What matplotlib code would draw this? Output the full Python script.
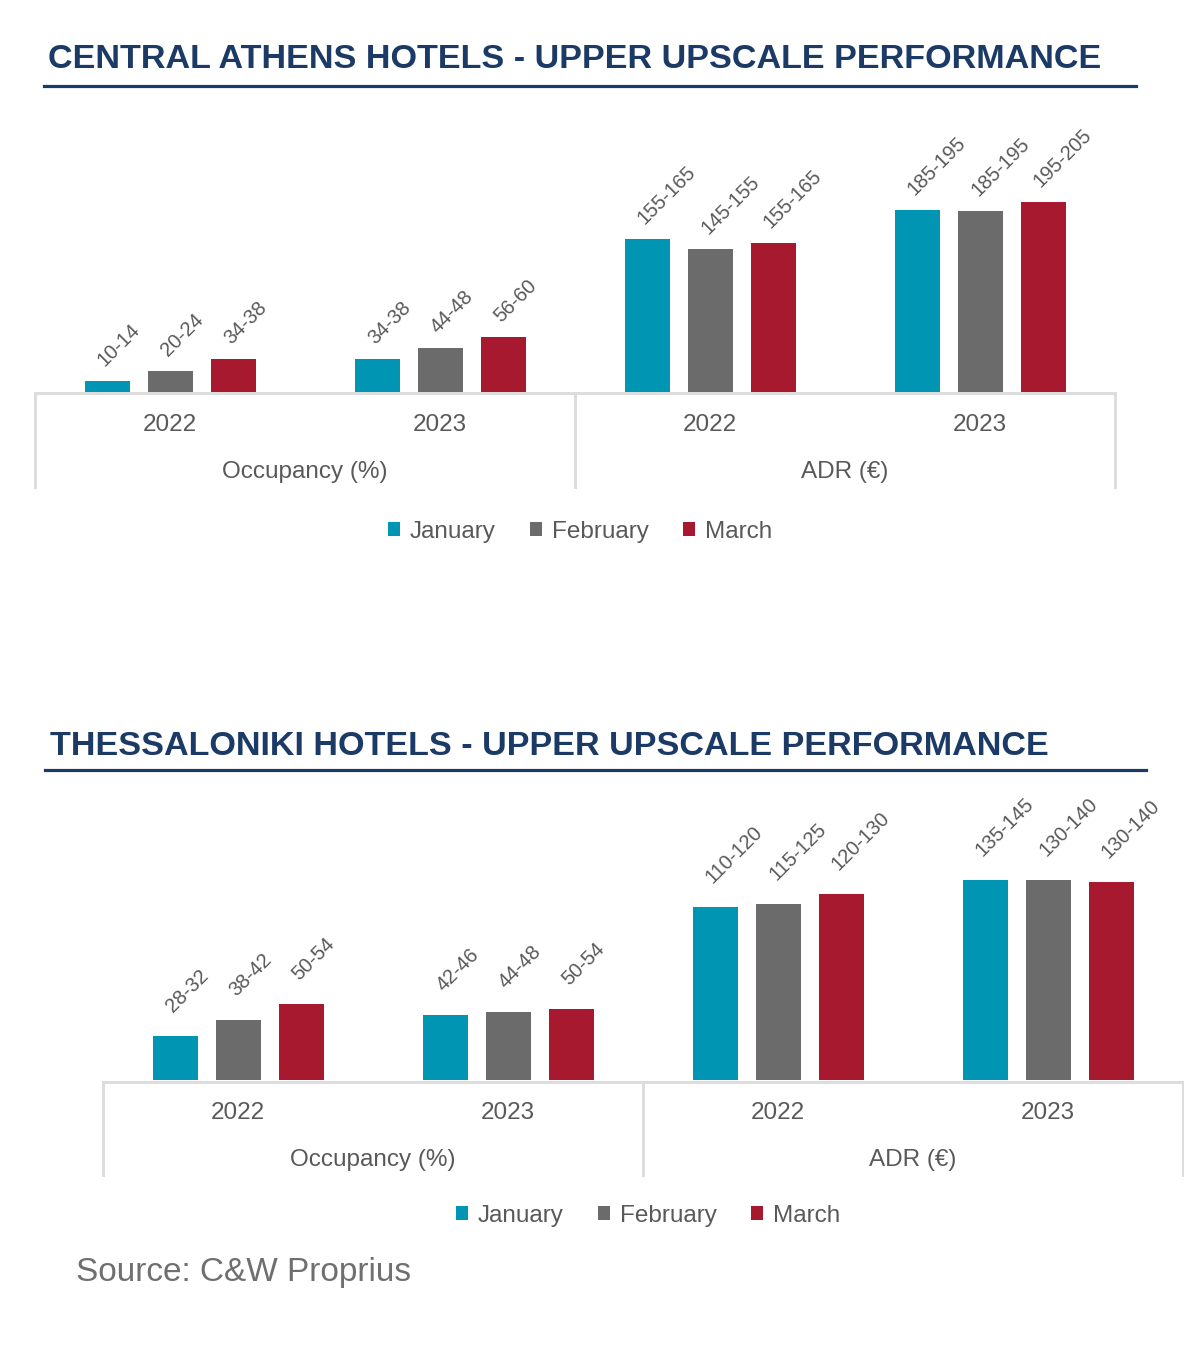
import matplotlib
matplotlib.use('Agg')
from matplotlib import pyplot as plt
from matplotlib import transforms
from matplotlib.patches import Patch
from matplotlib.lines import Line2D

plt.rcParams['font.family'] = ['Liberation Sans', 'DejaVu Sans']

meses = ['January', 'February', 'March']
anos = ['2022', '2023', '2022', '2023']
metricas = ['Occupancy (%)', 'ADR (€)']
cores = ['#0095B3', '#6A6B6A', '#A6192E']

# Central Athens (altura das barras, rotulos = faixas)
athens_jan = [11, 35, 161, 191.5]
athens_feb = [22, 46, 150, 190.5]
athens_mar = [35, 57.5, 157, 200]
athens_jan_lbl = ['10-14', '34-38', '155-165', '185-195']
athens_feb_lbl = ['20-24', '44-48', '145-155', '185-195']
athens_mar_lbl = ['34-38', '56-60', '155-165', '195-205']

# Thessaloniki
thess_jan = [30, 44, 117.5, 136]
thess_feb = [41, 46, 119.5, 136]
thess_mar = [52, 48, 126.5, 134.5]
thess_jan_lbl = ['28-32', '42-46', '110-120', '135-145']
thess_feb_lbl = ['38-42', '44-48', '115-125', '130-140']
thess_mar_lbl = ['50-54', '50-54', '120-130', '130-140']

W, H = 1184, 1360
AZUL = '#1B3A66'
CINZA = '#595959'
LINHA = '#DDDDDD'

fig = plt.figure(figsize=(W / 100, H / 100), dpi=100)


def px(x, y):
    # pixel -> fracao da figura
    return x / W, 1 - y / H


def painel(titulo, tit_x, tit_y, sub_x0, sub_x1, sub_y, caixa, ymax, series, rotulos, dy_rot, leg_x, leg_y):
    x0, y_top, x1, y_base = caixa
    h = y_base - y_top

    # titulo + linha
    fig.text(*px(tit_x, tit_y), titulo, fontsize=24.6, fontweight='bold', color=AZUL, ha='left', va='center')
    fig.add_artist(Line2D([sub_x0 / W, sub_x1 / W], [1 - sub_y / H] * 2, color=AZUL, lw=2.3))

    ax = fig.add_axes([x0 / W, 1 - y_base / H, (x1 - x0) / W, h / H])
    ax.set_xlim(-0.5, 3.5)
    ax.set_ylim(0, ymax)
    ax.axis('off')

    larg = 45 / 270
    passo = 63 / 270
    for k in range(3):
        pos = [i + (k - 1) * passo for i in range(len(anos))]
        barras = ax.bar(pos, series[k], width=larg, color=cores[k], zorder=3)
        # rotulos inclinados acima das barras
        for bar, txt in zip(barras, rotulos[k]):
            ax.annotate(txt, (bar.get_x() + bar.get_width() / 2, bar.get_height()),
                        xytext=(-2, dy_rot), textcoords='offset pixels', rotation=45,
                        rotation_mode='anchor', ha='left', va='baseline',
                        fontsize=14.5, color=CINZA)

    # eixo de categorias em dois niveis
    trans = transforms.blended_transform_factory(ax.transData, ax.transAxes)
    fundo = -95 / h
    ax.plot([-0.5, 3.5], [-1.5 / h] * 2, color=LINHA, lw=2.2, transform=trans, clip_on=False)
    for xv in [-0.5, 1.5, 3.5]:
        ax.plot([xv, xv], [-1.5 / h, fundo], color=LINHA, lw=2.2, transform=trans, clip_on=False)
    for i, ano in enumerate(anos):
        ax.annotate(ano, (i, 0), xycoords=trans, xytext=(0, -33), textcoords='offset pixels',
                    ha='center', va='center', fontsize=17.5, color=CINZA)
    for j, met in enumerate(metricas):
        ax.annotate(met, (2 * j + 0.5, 0), xycoords=trans, xytext=(0, -80), textcoords='offset pixels',
                    ha='center', va='center', fontsize=17.5, color=CINZA)

    # legenda
    handles = [Patch(facecolor=cores[k], label=meses[k]) for k in range(3)]
    fig.legend(handles=handles, loc='center', bbox_to_anchor=px(leg_x, leg_y), ncol=3, frameon=False,
               fontsize=17.5, labelcolor=CINZA, handlelength=0.5, handleheight=0.5,
               handletextpad=0.4, columnspacing=1.4)


painel('CENTRAL ATHENS HOTELS - UPPER UPSCALE PERFORMANCE', 48, 60, 44, 1136, 86,
       (35, 120, 1115, 391.7), 286.6,
       [athens_jan, athens_feb, athens_mar],
       [athens_jan_lbl, athens_feb_lbl, athens_mar_lbl], 14, 580, 532)

painel('THESSALONIKI HOTELS - UPPER UPSCALE PERFORMANCE', 50, 746, 45, 1146, 770,
       (103, 800, 1183, 1080), 190.5,
       [thess_jan, thess_feb, thess_mar],
       [thess_jan_lbl, thess_feb_lbl, thess_mar_lbl], 23, 648, 1216)

fig.text(*px(76, 1273), 'Source: C&W Proprius', fontsize=24, color='#6F6F6F', ha='left', va='center')

fig.savefig('out.png', dpi=100)
